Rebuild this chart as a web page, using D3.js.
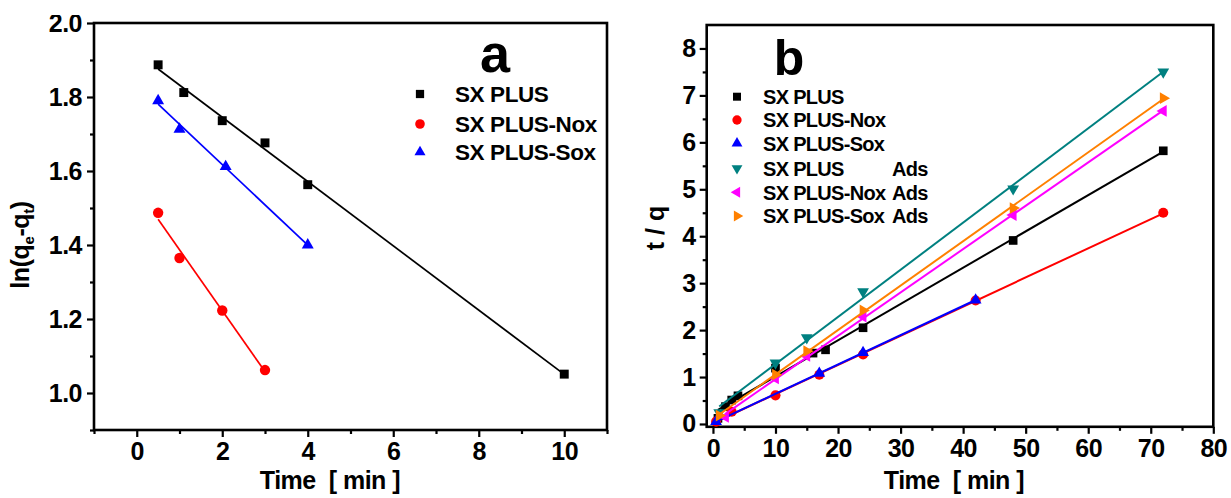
<!DOCTYPE html>
<html><head><meta charset="utf-8">
<script src="https://cdn.jsdelivr.net/npm/d3@7"></script>
<style>
body{margin:0;background:#fff;}
text{font-family:"Liberation Sans",Arial,Helvetica,sans-serif;font-weight:bold;fill:#000;}
</style></head><body>
<svg id="c" width="1231" height="498"></svg>
<script>
// ---------- Panel a data (pseudo-first-order) ----------
const aNames = ["SX PLUS", "SX PLUS-Nox", "SX PLUS-Sox"];
const aTimePlus = [0.5, 1.1, 2, 3, 4, 10];
const aValPlus  = [1.887, 1.812, 1.736, 1.676, 1.563, 1.051];
const aTimeNox  = [0.5, 1, 2, 3];
const aValNox   = [1.487, 1.365, 1.223, 1.062];
const aTimeSox  = [0.5, 1, 2.08, 4];
const aValSox   = [1.79, 1.713, 1.612, 1.40];
const aXTicks = [0, 2, 4, 6, 8, 10];
const aXMinor = [-1, 1, 3, 5, 7, 9, 11];
const aYTicks = [1.0, 1.2, 1.4, 1.6, 1.8, 2.0];
const aYMinor = [0.9, 1.1, 1.3, 1.5, 1.7, 1.9];

// ---------- Panel b data (pseudo-second-order) ----------
const bNames   = ["SX PLUS", "SX PLUS-Nox", "SX PLUS-Sox", "SX PLUS", "SX PLUS-Nox", "SX PLUS-Sox"];
const bSuffix  = ["", "", "", "Ads", "Ads", "Ads"];
const bTimePlus = [0.8, 2, 3, 4, 10, 16, 18, 24, 48, 72];
const bValPlus  = [0.12, 0.37, 0.51, 0.60, 1.19, 1.51, 1.58, 2.05, 3.91, 5.82];
const bTimeNox  = [0.5, 3, 10, 17, 24, 42, 72];
const bValNox   = [0.05, 0.26, 0.61, 1.05, 1.48, 2.63, 4.50];
const bTimeSox  = [0.5, 17, 24, 42];
const bValSox   = [0.05, 1.08, 1.52, 2.64];
const bTimePlusAds = [1, 10, 15, 24, 48, 72];
const bValPlusAds  = [0.24, 1.30, 1.84, 2.82, 5.01, 7.50];
const bTimeNoxAds  = [2, 10, 15, 24, 48, 72];
const bValNoxAds   = [0.15, 0.97, 1.45, 2.29, 4.45, 6.67];
const bTimeSoxAds  = [1, 10, 15, 24, 48, 72];
const bValSoxAds   = [0.18, 1.05, 1.55, 2.42, 4.60, 6.94];
const bXTicks = [0, 10, 20, 30, 40, 50, 60, 70, 80];
const bXMinor = [5, 15, 25, 35, 45, 55, 65, 75];
const bYTicks = [0, 1, 2, 3, 4, 5, 6, 7, 8];
const bYMinor = [0.5, 1.5, 2.5, 3.5, 4.5, 5.5, 6.5, 7.5];

// ---------- styles ----------
const colBlack = "#000000", colRed = "#ff0000", colBlue = "#0000ff",
      colTeal = "#008080", colMag = "#ff00ff", colOrange = "#ff8000";

const svg = d3.select("#c");

function zip(t, v) { return t.map((d, i) => ({t: d, v: v[i]})); }
function fit(pts) {
  const mx = d3.mean(pts, d => d.t), my = d3.mean(pts, d => d.v);
  let sxy = 0, sxx = 0;
  pts.forEach(d => { sxy += (d.t - mx) * (d.v - my); sxx += (d.t - mx) ** 2; });
  const m = sxy / sxx, b = my - m * mx;
  const x0 = d3.min(pts, d => d.t), x1 = d3.max(pts, d => d.t);
  return [{t: x0, v: b + m * x0}, {t: x1, v: b + m * x1}];
}
function symPath(kind, size) {
  const map = {square: d3.symbolSquare, circle: d3.symbolCircle};
  const type = map[kind] || d3.symbolTriangle;
  return d3.symbol().type(type).size(size)();
}
function symRot(kind) {
  return {up: 0, down: 180, left: -90, right: 90}[kind] || 0;
}

function panel(o) {
  const g = svg.append("g");
  const x = d3.scaleLinear().domain(o.xDom).range(o.xRange);
  const y = d3.scaleLinear().domain(o.yDom).range(o.yRange);

  const ax = g.append("g").attr("transform", `translate(0,${o.yRange[0]})`)
    .call(d3.axisBottom(x).tickValues(o.xTicks).tickSize(7).tickPadding(5).tickFormat(d3.format("d")));
  const axm = g.append("g").attr("transform", `translate(0,${o.yRange[0]})`)
    .call(d3.axisBottom(x).tickValues(o.xMinor).tickSize(4).tickFormat(""));
  const ay = g.append("g").attr("transform", `translate(${o.xRange[0]},0)`)
    .call(d3.axisLeft(y).tickValues(o.yTicks).tickSize(7).tickPadding(o.yPad).tickFormat(o.yFmt));
  const aym = g.append("g").attr("transform", `translate(${o.xRange[0]},0)`)
    .call(d3.axisLeft(y).tickValues(o.yMinor).tickSize(4).tickFormat(""));
  [ax, axm, ay, aym].forEach(a => {
    a.select(".domain").remove();
    a.selectAll("line").attr("stroke", "#000").attr("stroke-width", 2.2);
    a.selectAll("text").attr("font-size", 25).attr("font-family", null).attr("letter-spacing", -0.5);
  });
  g.append("rect")
    .attr("x", o.xRange[0]).attr("y", o.yRange[1])
    .attr("width", o.xRange[1] - o.xRange[0]).attr("height", o.yRange[0] - o.yRange[1])
    .attr("fill", "none").attr("stroke", "#000").attr("stroke-width", 2.6);

  o.series.forEach(s => {
    const pts = zip(s.t, s.v);
    const fl = fit(pts);
    g.append("path").datum(fl)
      .attr("d", d3.line().x(d => x(d.t)).y(d => y(d.v)))
      .attr("fill", "none").attr("stroke", s.color).attr("stroke-width", o.lw);
    g.append("g").selectAll("path").data(pts).join("path")
      .attr("d", symPath(s.sym, s.size))
      .attr("transform", d => `translate(${x(d.t)},${y(d.v)}) rotate(${symRot(s.sym)})`)
      .attr("fill", s.color);
  });

  o.legend.forEach((L, i) => {
    const cy = o.legY[i];
    const s = o.series[i];
    g.append("path").attr("d", symPath(s.sym, s.size * 0.85))
      .attr("transform", `translate(${o.legMarkX},${cy}) rotate(${symRot(s.sym)})`)
      .attr("fill", s.color);
    g.append("text").attr("x", o.legTextX).attr("y", cy + o.legFont * 0.36)
      .attr("font-size", o.legFont).attr("letter-spacing", o.legLS).text(L);
    if (o.legSuffix && o.legSuffix[i]) {
      g.append("text").attr("x", o.legSuffixX).attr("y", cy + o.legFont * 0.36)
        .attr("font-size", o.legFont).attr("letter-spacing", o.legLS).text(o.legSuffix[i]);
    }
  });

  g.append("text").attr("x", o.letterX).attr("y", o.letterY).attr("text-anchor", "middle")
    .attr("font-size", o.letterFont).text(o.letter);

  g.append("text").attr("x", o.xLabX).attr("y", 489).attr("text-anchor", "middle")
    .attr("font-size", 25).attr("letter-spacing", -0.5).style("white-space", "pre").text("Time  [ min ]");
  return g;
}

// clip matching the reference's cut-off top edge
svg.append("clipPath").attr("id", "clipTop").append("rect")
  .attr("x", 0).attr("y", 15).attr("width", 1231).attr("height", 483);

const gA = panel({
  xDom: [-1, 11], xRange: [94, 607], yDom: [0.9, 2.0], yRange: [430, 23],
  xTicks: aXTicks, xMinor: aXMinor, yTicks: aYTicks, yMinor: aYMinor,
  yFmt: d3.format(".1f"), yPad: 5, lw: 1.7,
  series: [
    {t: aTimePlus, v: aValPlus, color: colBlack, sym: "square", size: 80},
    {t: aTimeNox,  v: aValNox,  color: colRed,   sym: "circle", size: 85},
    {t: aTimeSox,  v: aValSox,  color: colBlue,  sym: "up",     size: 62}
  ],
  legend: aNames, legY: [94, 124, 152], legMarkX: 420, legTextX: 455, legFont: 22.5, legLS: -0.4,
  letter: "a", letterX: 495, letterY: 72, letterFont: 54,
  xLabX: 330
});
gA.attr("clip-path", "url(#clipTop)");

const ylA = svg.append("text").attr("transform", "translate(29,245) rotate(-90)")
  .attr("text-anchor", "middle").attr("font-size", 25).attr("letter-spacing", -0.4);
ylA.append("tspan").text("ln(q");
ylA.append("tspan").attr("font-size", 15).attr("dy", 5).text("e");
ylA.append("tspan").attr("dy", -5).text("-q");
ylA.append("tspan").attr("font-size", 15).attr("dy", 5).text("t");
ylA.append("tspan").attr("dy", -5).text(")");

const gB = panel({
  xDom: [-1, 80], xRange: [706.7, 1213.3], yDom: [-0.06, 8.5], yRange: [426.8, 25],
  xTicks: bXTicks, xMinor: bXMinor, yTicks: bYTicks, yMinor: bYMinor,
  yFmt: d3.format("d"), yPad: 4, lw: 2,
  series: [
    {t: bTimePlus,    v: bValPlus,    color: colBlack,  sym: "square", size: 75},
    {t: bTimeNox,     v: bValNox,     color: colRed,    sym: "circle", size: 80},
    {t: bTimeSox,     v: bValSox,     color: colBlue,   sym: "up",     size: 60},
    {t: bTimePlusAds, v: bValPlusAds, color: colTeal,   sym: "down",   size: 60},
    {t: bTimeNoxAds,  v: bValNoxAds,  color: colMag,    sym: "left",   size: 60},
    {t: bTimeSoxAds,  v: bValSoxAds,  color: colOrange, sym: "right",  size: 60}
  ],
  legend: bNames, legSuffix: bSuffix, legSuffixX: 892,
  legY: [96.7, 120, 143.3, 168.3, 192.3, 216], legMarkX: 737, legTextX: 763, legFont: 20, legLS: -0.7,
  letter: "b", letterX: 789, letterY: 75, letterFont: 50,
  xLabX: 954
});
svg.append("text").attr("transform", "translate(664,228) rotate(-90)")
  .attr("text-anchor", "middle").attr("font-size", 25).style("white-space", "pre").text("t / q");
</script>
</body></html>
